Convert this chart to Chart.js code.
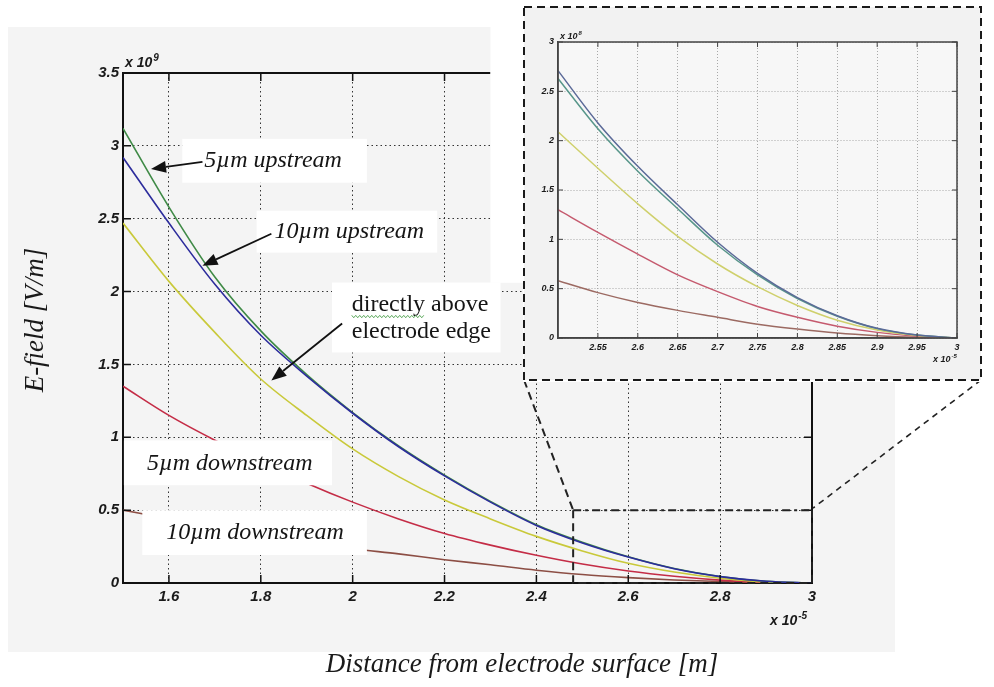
<!DOCTYPE html>
<html>
<head>
<meta charset="utf-8">
<script src="https://cdn.jsdelivr.net/npm/chart.js@4.4.1/dist/chart.umd.min.js"></script>
<style>
html, body { margin: 0; padding: 0; background: #fff; }
#wrap { position: relative; width: 994px; height: 687px; overflow: hidden; }
#main { position: absolute; left: 0; top: 0; }
#inset { position: absolute; left: 523px; top: 6px; }
</style>
</head>
<body>
<div id="wrap">
<canvas id="main" width="994" height="687"></canvas>
<canvas id="inset" width="460" height="376"></canvas>
</div>
<script>
// main plot, distance in units of 1e-5 m, field in units of 1e9 V/m
var dist = [1.5, 1.6, 1.7, 1.8, 1.9, 2.0, 2.1, 2.2, 2.3, 2.4, 2.5, 2.6, 2.7, 2.8, 2.9, 3.0];
var up5 = [3.12, 2.58, 2.10, 1.73, 1.43, 1.17, 0.94, 0.74, 0.56, 0.40, 0.28, 0.18, 0.10, 0.045, 0.012, 0];
var up10 = [2.92, 2.47, 2.05, 1.70, 1.42, 1.165, 0.935, 0.735, 0.555, 0.395, 0.275, 0.178, 0.098, 0.044, 0.012, 0];
var edge = [2.47, 2.07, 1.72, 1.40, 1.15, 0.92, 0.73, 0.57, 0.44, 0.32, 0.22, 0.135, 0.075, 0.033, 0.007, 0];
var down5 = [1.35, 1.15, 0.98, 0.83, 0.685, 0.555, 0.44, 0.34, 0.26, 0.19, 0.13, 0.082, 0.046, 0.02, 0.004, 0];
var down10 = [0.50, 0.44, 0.385, 0.33, 0.28, 0.235, 0.20, 0.16, 0.125, 0.088, 0.058, 0.037, 0.021, 0.01, 0.003, 0];
var main_xticks = [1.6, 1.8, 2.0, 2.2, 2.4, 2.6, 2.8, 3.0];
var main_yticks = [0, 0.5, 1, 1.5, 2, 2.5, 3, 3.5];

// zoomed inset, field in units of 1e8 V/m
var inset_dist = [2.5, 2.55, 2.6, 2.65, 2.7, 2.75, 2.8, 2.85, 2.9, 2.95, 3.0];
var inset_a = [2.71, 2.18, 1.74, 1.35, 0.97, 0.655, 0.41, 0.226, 0.098, 0.03, 0];
var inset_b = [2.63, 2.12, 1.69, 1.31, 0.94, 0.64, 0.40, 0.22, 0.095, 0.03, 0];
var inset_c = [2.09, 1.72, 1.36, 1.03, 0.75, 0.52, 0.33, 0.18, 0.08, 0.025, 0];
var inset_d = [1.30, 1.07, 0.85, 0.64, 0.47, 0.32, 0.21, 0.12, 0.057, 0.018, 0];
var inset_e = [0.58, 0.46, 0.36, 0.28, 0.21, 0.14, 0.09, 0.05, 0.024, 0.007, 0];
var inset_xticks = [2.55, 2.6, 2.65, 2.7, 2.75, 2.8, 2.85, 2.9, 2.95, 3.0];
var inset_yticks = [0, 0.5, 1, 1.5, 2, 2.5, 3];

var notes = [
	{ lines: ["5\u00b5m upstream"], italic: true, box: [1.629, 3.048, 2.031, 2.747], at: [1.677, 2.897], arrow: [1.673, 2.890, 1.561, 2.842] },
	{ lines: ["10\u00b5m upstream"], italic: true, box: [1.791, 2.555, 2.184, 2.267], at: [1.830, 2.411], arrow: [1.823, 2.397, 1.673, 2.178] },
	{ lines: ["directly above", "electrode edge"], italic: false, box: [1.955, 2.062, 2.322, 1.582], at: [1.998, 1.911], arrow: [1.977, 1.781, 1.823, 1.390] },
	{ lines: ["5\u00b5m downstream"], italic: true, box: [1.502, 0.979, 1.955, 0.671], at: [1.552, 0.822] },
	{ lines: ["10\u00b5m downstream"], italic: true, box: [1.542, 0.500, 2.031, 0.192], at: [1.594, 0.342] }
];

function pts(xs, ys) {
	return xs.map(function(x, i) { return { x: x, y: ys[i] }; });
}

function line(label, xs, ys, color) {
	return { label: label, data: pts(xs, ys), borderColor: color, backgroundColor: color, fill: false };
}

function arrow(c, x1, y1, x2, y2) {
	var a = Math.atan2(y2 - y1, x2 - x1);
	var hl = 15, hw = 6;
	var bx = x2 - hl * Math.cos(a), by = y2 - hl * Math.sin(a);
	c.strokeStyle = "#111";
	c.lineWidth = 1.8;
	c.beginPath();
	c.moveTo(x1, y1);
	c.lineTo(bx, by);
	c.stroke();
	c.fillStyle = "#111";
	c.beginPath();
	c.moveTo(x2, y2);
	c.lineTo(bx + hw * Math.sin(a), by - hw * Math.cos(a));
	c.lineTo(bx - hw * Math.sin(a), by + hw * Math.cos(a));
	c.closePath();
	c.fill();
}

function expo(c, x, y, base, sup, size) {
	c.fillStyle = "#1a1a1a";
	c.textBaseline = "alphabetic";
	c.textAlign = "left";
	c.font = "italic bold " + size + "px 'Liberation Sans'";
	c.fillText(base, x, y);
	var w = c.measureText(base).width;
	c.font = "italic bold " + Math.round(size * 0.7) + "px 'Liberation Sans'";
	c.fillText(sup, x + w + 1, y - size * 0.45);
}

// small inward tick marks on all four sides, as matlab draws them
function innerTicks(chart, len, color, width) {
	var c = chart.ctx, a = chart.chartArea;
	c.save();
	c.strokeStyle = color;
	c.lineWidth = width;
	c.beginPath();
	chart.scales.x.ticks.forEach(function(t) {
		var x = chart.scales.x.getPixelForValue(t.value);
		c.moveTo(x, a.bottom); c.lineTo(x, a.bottom - len);
		c.moveTo(x, a.top); c.lineTo(x, a.top + len);
	});
	chart.scales.y.ticks.forEach(function(t) {
		var y = chart.scales.y.getPixelForValue(t.value);
		c.moveTo(a.left, y); c.lineTo(a.left + len, y);
		c.moveTo(a.right, y); c.lineTo(a.right - len, y);
	});
	c.stroke();
	c.restore();
}

var tickFont = { family: "'Liberation Sans', Arial", size: 15, weight: "bold", style: "italic" };

var mainDeco = {
	id: "mainDeco",
	beforeDraw: function(chart) {
		var c = chart.ctx;
		c.save();
		c.fillStyle = "#fff";
		c.fillRect(0, 0, chart.width, chart.height);
		c.fillStyle = "#f4f4f4";
		c.fillRect(8, 27, 887, 625);
		c.restore();
	},
	afterDatasetsDraw: function(chart) {
		var c = chart.ctx, sx = chart.scales.x, sy = chart.scales.y;
		var px = function(v) { return sx.getPixelForValue(v); };
		var py = function(v) { return sy.getPixelForValue(v); };
		innerTicks(chart, 8, "#111", 1.5);
		c.save();
		notes.forEach(function(n) {
			var x0 = px(n.box[0]), y0 = py(n.box[1]), x1 = px(n.box[2]), y1 = py(n.box[3]);
			c.fillStyle = "#fff";
			c.fillRect(x0, y0, x1 - x0, y1 - y0);
			c.fillStyle = "#151515";
			c.textAlign = "left";
			c.textBaseline = "middle";
			c.font = (n.italic ? "italic " : "") + "24px 'Liberation Serif'";
			n.lines.forEach(function(t, i) {
				c.fillText(t, px(n.at[0]), py(n.at[1]) + i * 27);
			});
			if (!n.italic) {
				// spell-check squiggle under the first word
				var w = c.measureText("directly").width;
				var ux = px(n.at[0]), uy = py(n.at[1]) + 12;
				c.strokeStyle = "#5aa85a";
				c.lineWidth = 1;
				c.beginPath();
				for (var k = 0; k <= w; k += 2) {
					c.lineTo(ux + k, uy + ((k / 2) % 2 ? 1.2 : -1.2));
				}
				c.stroke();
			}
			if (n.arrow) {
				arrow(c, px(n.arrow[0]), py(n.arrow[1]), px(n.arrow[2]), py(n.arrow[3]));
			}
		});
		c.restore();
	},
	afterDraw: function(chart) {
		var c = chart.ctx, a = chart.chartArea, sx = chart.scales.x, sy = chart.scales.y;
		var px = function(v) { return sx.getPixelForValue(v); };
		var py = function(v) { return sy.getPixelForValue(v); };
		c.save();
		// top and right frame
		c.strokeStyle = "#111";
		c.lineWidth = 2;
		c.beginPath();
		c.moveTo(a.left, a.top);
		c.lineTo(px(2.3), a.top);
		c.moveTo(a.right, a.top);
		c.lineTo(a.right, a.bottom);
		c.stroke();
		// white margin of the pasted inset
		c.fillStyle = "#fff";
		c.fillRect(px(2.3), 0, chart.width - px(2.3), py(2.06));

		// zoom region
		c.lineWidth = 2;
		c.strokeStyle = "#222";
		c.setLineDash([8, 4, 3, 4]);
		c.beginPath();
		c.moveTo(px(2.48), py(0.5));
		c.lineTo(a.right, py(0.5));
		c.stroke();
		c.setLineDash([8, 5]);
		c.beginPath();
		c.moveTo(px(2.48), py(0.5));
		c.lineTo(px(2.48), a.bottom);
		c.lineTo(a.right, a.bottom);
		c.lineTo(a.right, py(0.5));
		c.stroke();
		// connectors to inset corners
		c.beginPath();
		c.moveTo(524, 380);
		c.lineTo(px(2.48), py(0.5));
		c.stroke();
		c.lineWidth = 1.6;
		c.setLineDash([6, 5]);
		c.beginPath();
		c.moveTo(981, 380);
		c.lineTo(a.right + 1, py(0.5) - 2);
		c.stroke();
		c.setLineDash([]);

		// exponents
		expo(c, a.left + 2, a.top - 6, "x 10", "9", 14);
		expo(c, a.right - 42, a.bottom + 42, "x 10", "-5", 14);

		// axis titles
		c.fillStyle = "#1a1a1a";
		c.font = "italic 27px 'Liberation Serif'";
		c.textAlign = "center";
		c.textBaseline = "middle";
		c.fillText("Distance from electrode surface [m]", 522, 665);
		c.translate(36, 320);
		c.rotate(-Math.PI / 2);
		c.fillText("E-field [V/m]", 0, 0);
		c.restore();
	}
};

new Chart(document.getElementById("main"), {
	type: "line",
	data: {
		datasets: [
			line("10\u00b5m upstream", dist, up10, "#2c2c9c"),
			line("5\u00b5m upstream", dist, up5, "#3f8a46"),
			line("directly above electrode edge", dist, edge, "#c9c93a"),
			line("5\u00b5m downstream", dist, down5, "#c42c46"),
			line("10\u00b5m downstream", dist, down10, "#8c4e44")
		]
	},
	options: {
		responsive: false,
		animation: false,
		devicePixelRatio: 1,
		layout: { padding: { left: 0, top: 73, right: 182, bottom: 0 } },
		plugins: { legend: { display: false }, tooltip: { enabled: false } },
		elements: {
			point: { radius: 0 },
			line: { borderWidth: 1.6, cubicInterpolationMode: "monotone" }
		},
		scales: {
			x: {
				type: "linear",
				min: 1.5,
				max: 3,
				afterBuildTicks: function(s) { s.ticks = main_xticks.map(function(v) { return { value: v }; }); },
				afterFit: function(s) { s.height = 104; },
				grid: { color: "#333", lineWidth: 1, drawTicks: false },
				border: { color: "#111", width: 2, dash: [1.5, 3] },
				ticks: {
					padding: 5, color: "#1a1a1a", font: tickFont, autoSkip: false, maxRotation: 0,
					callback: function(v) { return String(+v.toFixed(1)); }
				}
			},
			y: {
				min: 0,
				max: 3.5,
				afterBuildTicks: function(s) { s.ticks = main_yticks.map(function(v) { return { value: v }; }); },
				afterFit: function(s) { s.width = 123; },
				grid: { color: "#333", lineWidth: 1, drawTicks: false },
				border: { color: "#111", width: 2, dash: [1.5, 3] },
				ticks: {
					padding: 4, color: "#1a1a1a", font: tickFont,
					callback: function(v) { return String(+v.toFixed(1)); }
				}
			}
		}
	},
	plugins: [mainDeco]
});

var insetFont = { family: "'Liberation Sans', Arial", size: 9, weight: "bold", style: "italic" };

var insetDeco = {
	id: "insetDeco",
	beforeDraw: function(chart) {
		var c = chart.ctx;
		c.save();
		c.fillStyle = "#fff";
		c.fillRect(0, 0, chart.width, chart.height);
		c.fillStyle = "#f2f2f2";
		c.fillRect(1, 1, 457, 373);
		var a = chart.chartArea;
		c.fillStyle = "#f7f7f7";
		c.fillRect(a.left, a.top, a.right - a.left, a.bottom - a.top);
		c.restore();
	},
	afterDraw: function(chart) {
		var c = chart.ctx, a = chart.chartArea;
		innerTicks(chart, 5, "#444", 1);
		c.save();
		c.strokeStyle = "#444";
		c.lineWidth = 1.5;
		c.strokeRect(a.left, a.top, a.right - a.left, a.bottom - a.top);
		expo(c, a.left + 2, a.top - 3, "x 10", "8", 9);
		expo(c, a.right - 24, a.bottom + 24, "x 10", "-5", 9);
		c.strokeStyle = "#1a1a1a";
		c.lineWidth = 2;
		c.setLineDash([8, 5]);
		c.strokeRect(1, 1, 457, 373);
		c.restore();
	}
};

new Chart(document.getElementById("inset"), {
	type: "line",
	data: {
		datasets: [
			line("a", inset_dist, inset_a, "#5b6a98"),
			line("b", inset_dist, inset_b, "#58968a"),
			line("c", inset_dist, inset_c, "#cfd06c"),
			line("d", inset_dist, inset_d, "#c55a6e"),
			line("e", inset_dist, inset_e, "#9c6a62")
		]
	},
	options: {
		responsive: false,
		animation: false,
		devicePixelRatio: 1,
		layout: { padding: { left: 0, top: 36, right: 26, bottom: 0 } },
		plugins: { legend: { display: false }, tooltip: { enabled: false } },
		elements: {
			point: { radius: 0 },
			line: { borderWidth: 1.5, cubicInterpolationMode: "monotone" }
		},
		scales: {
			x: {
				type: "linear",
				min: 2.5,
				max: 3,
				afterBuildTicks: function(s) { s.ticks = inset_xticks.map(function(v) { return { value: v }; }); },
				afterFit: function(s) { s.height = 44; },
				grid: { color: "#a8a8a8", lineWidth: 1, drawTicks: false },
				border: { color: "#444", width: 1.5, dash: [1, 2] },
				ticks: {
					padding: 4, color: "#1a1a1a", font: insetFont, autoSkip: false, maxRotation: 0,
					callback: function(v) { return String(+v.toFixed(2)); }
				}
			},
			y: {
				min: 0,
				max: 3,
				afterBuildTicks: function(s) { s.ticks = inset_yticks.map(function(v) { return { value: v }; }); },
				afterFit: function(s) { s.width = 35; },
				grid: { color: "#a8a8a8", lineWidth: 1, drawTicks: false },
				border: { color: "#444", width: 1.5, dash: [1, 2] },
				ticks: {
					padding: 4, color: "#1a1a1a", font: insetFont,
					callback: function(v) { return String(+v.toFixed(1)); }
				}
			}
		}
	},
	plugins: [insetDeco]
});
</script>
</body>
</html>
